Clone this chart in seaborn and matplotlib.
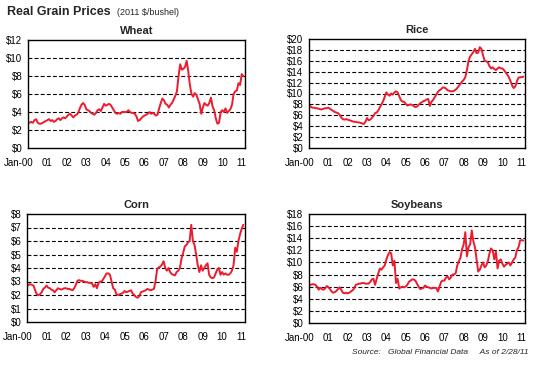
import numpy as np
import pandas as pd
import matplotlib
matplotlib.use("Agg")
import matplotlib.pyplot as plt
import matplotlib.transforms as mtransforms
import seaborn as sns

# Monthly real prices (2011 $/bushel), Jan-2000 .. Feb-2011
wheat = [2.9, 2.8, 2.9, 2.8, 3.1, 3.2, 2.8, 2.7, 2.7, 2.8, 2.9, 3.0,
         3.1, 3.2, 3.0, 3.1, 2.9, 3.0, 3.2, 3.3, 3.1, 3.3, 3.4, 3.3,
         3.5, 3.7, 3.8, 3.6, 3.4, 3.6, 3.7, 3.9, 4.4, 4.8, 5.0, 4.8,
         4.3, 4.2, 4.1, 3.9, 3.8, 3.7, 3.9, 4.2, 4.3, 4.1, 4.5, 4.9,
         4.7, 4.8, 4.9, 4.8, 4.5, 4.2, 3.9, 3.8, 3.9, 3.8, 4.0, 4.0,
         4.0, 4.0, 4.2, 4.0, 3.9, 3.9, 3.8, 3.5, 3.0, 3.1, 3.3, 3.5,
         3.6, 3.7, 3.8, 4.0, 3.8, 3.9, 3.8, 3.6, 3.7, 4.4, 5.0, 5.5,
         5.3, 4.9, 4.8, 4.5, 4.8, 5.0, 5.4, 5.8, 6.3, 8.0, 9.3, 8.7,
         8.8, 9.0, 9.7, 8.5, 7.0, 6.0, 5.7, 6.1, 5.9, 5.4, 4.9, 3.8,
         4.5, 5.0, 4.8, 4.7, 5.0, 5.6, 4.6, 4.2, 3.3, 2.7, 2.8, 4.0,
         4.2, 4.0, 4.4, 3.9, 4.1, 4.3, 4.8, 6.0, 6.3, 6.4, 7.2, 7.0,
         8.2, 8.0]

rice = [7.8, 7.6, 7.4, 7.4, 7.3, 7.3, 7.2, 7.1, 7.1, 7.2, 7.3, 7.3,
        7.4, 7.2, 7.0, 6.8, 6.6, 6.5, 6.4, 6.1, 5.6, 5.3, 5.2, 5.3,
        5.2, 5.1, 5.0, 4.9, 4.8, 4.8, 4.7, 4.7, 4.6, 4.5, 4.4, 4.8,
        5.5, 5.1, 5.2, 5.5, 5.9, 6.4, 6.5, 6.9, 7.5, 8.0, 8.6, 9.4,
        10.2, 9.8, 9.6, 10.0, 9.8, 10.2, 10.4, 10.2, 9.5, 8.8, 8.5, 8.5,
        8.1, 7.8, 7.9, 8.0, 7.9, 7.7, 7.5, 7.6, 7.9, 8.2, 8.4, 8.6,
        8.7, 8.9, 9.0, 7.7, 8.5, 8.8, 9.3, 9.8, 10.3, 10.6, 10.8, 11.1,
        11.1, 10.9, 10.6, 10.5, 10.4, 10.4, 10.5, 10.7, 11.0, 11.4, 11.8, 12.2,
        12.5, 13.0, 14.3, 16.0, 16.8, 17.2, 17.6, 18.2, 17.4, 17.5, 18.5, 18.2,
        17.0, 16.0, 15.9, 15.7, 15.0, 14.6, 14.8, 14.5, 14.3, 14.6, 14.8, 14.6,
        14.6, 14.3, 13.9, 13.5, 13.0, 12.3, 11.5, 11.0, 11.3, 12.2, 12.9, 13.0,
        13.0, 13.1]

corn = [2.65, 2.75, 2.80, 2.75, 2.70, 2.35, 2.05, 2.00, 2.05, 2.20, 2.45, 2.55,
        2.70, 2.55, 2.50, 2.40, 2.35, 2.20, 2.35, 2.50, 2.45, 2.40, 2.45, 2.50,
        2.50, 2.45, 2.45, 2.40, 2.35, 2.50, 2.75, 3.05, 3.10, 3.05, 3.05, 3.00,
        2.95, 2.95, 2.90, 2.90, 2.85, 2.60, 2.80, 2.50, 2.90, 3.00, 3.00, 3.20,
        3.40, 3.60, 3.60, 3.50, 3.00, 2.50, 2.40, 2.05, 2.00, 2.05, 2.10, 2.15,
        2.30, 2.20, 2.25, 2.30, 2.35, 2.10, 2.00, 1.85, 1.80, 1.90, 2.20, 2.25,
        2.30, 2.35, 2.45, 2.40, 2.35, 2.40, 2.45, 3.00, 3.90, 4.05, 4.10, 4.25,
        4.50, 4.00, 3.80, 4.00, 3.70, 3.55, 3.50, 3.45, 3.70, 3.80, 4.00, 4.70,
        5.10, 5.60, 5.70, 5.90, 6.00, 7.20, 6.00, 5.70, 5.00, 4.20, 3.70, 4.20,
        3.80, 4.00, 4.20, 4.35, 3.50, 3.30, 3.25, 3.30, 3.60, 3.90, 4.00, 3.50,
        3.70, 3.50, 3.60, 3.50, 3.50, 3.60, 3.80, 4.20, 5.50, 5.20, 6.00, 6.50,
        6.90, 7.20]

soybeans = [6.2, 6.3, 6.4, 6.4, 6.3, 6.0, 5.5, 5.8, 5.6, 5.5, 5.7, 6.1,
            5.9, 5.6, 5.2, 5.0, 5.1, 5.3, 5.6, 5.9, 5.5, 5.0, 4.9, 5.0,
            4.9, 5.0, 5.2, 5.4, 5.7, 6.3, 6.4, 6.5, 6.5, 6.6, 6.6, 6.5,
            6.5, 6.5, 6.8, 7.2, 7.3, 6.3, 7.3, 8.2, 9.0, 8.8, 9.2, 9.5,
            10.5, 11.2, 11.7, 11.5, 9.5, 10.3, 6.6, 7.3, 5.7, 5.9, 6.0, 5.9,
            6.0, 6.3, 6.8, 7.0, 7.2, 7.2, 7.0, 6.5, 6.0, 5.6, 5.7, 5.8,
            6.2, 6.0, 5.9, 5.8, 5.7, 5.8, 5.8, 5.8, 5.2, 6.0, 6.8, 7.0,
            7.0, 7.5, 7.7, 7.2, 7.5, 8.0, 8.0, 8.2, 9.5, 10.2, 10.8, 12.2,
            13.0, 15.0, 11.0, 12.5, 13.0, 15.3, 13.5, 12.5, 10.5, 8.5, 8.8, 9.5,
            10.0, 9.2, 9.5, 10.2, 11.5, 12.3, 12.0, 10.5, 11.8, 9.0, 10.3, 10.5,
            9.8, 9.3, 9.6, 9.8, 10.0, 9.5, 10.0, 10.5, 10.8, 12.0, 12.5, 13.6,
            13.7, 13.6]

year_labels = ["Jan-00", "01", "02", "03", "04", "05", "06", "07", "08", "09", "10", "11"]

# decimal-year time axis for the monthly series
t = 2000 + np.arange(len(wheat)) / 12.0
df = pd.DataFrame({"t": t, "Wheat": wheat, "Rice": rice,
                   "Corn": corn, "Soybeans": soybeans})

sns.set_style("white")
plt.rcParams["font.family"] = ["Liberation Sans", "DejaVu Sans"]

fig = plt.figure(figsize=(5.37, 3.71), dpi=100)
W, H = 537.0, 371.0

# (name, left, top, right, bottom in px, ymax, ystep)
panels = [("Wheat", 28, 40, 245, 148, 12, 2),
          ("Rice", 309, 39, 525, 148, 20, 2),
          ("Corn", 27, 214, 245, 322, 8, 1),
          ("Soybeans", 309, 214, 525, 323, 18, 2)]

red = "#ee1b2f"
for name, l, tp, r, b, ymax, ystep in panels:
    ax = fig.add_axes([l / W, 1 - b / H, (r - l) / W, (b - tp) / H])
    sns.lineplot(data=df, x="t", y=name, ax=ax, color=red, linewidth=1.4)
    ax.set_xlim(2000, 2011.17)
    ax.set_ylim(0, ymax)
    yt = np.arange(0, ymax + 0.01, ystep)
    ax.set_yticks(yt)
    ax.set_yticklabels(["$%d" % v for v in yt])
    ax.set_xticks(np.arange(2000, 2012))
    ax.set_xticklabels(year_labels)
    ax.set_xlabel("")
    ax.set_ylabel("")
    for v in yt[1:-1]:
        ax.axhline(v, color="black", linestyle=(0, (3.5, 2)), linewidth=0.8, zorder=0)
    for s in ax.spines.values():
        s.set_color("black")
        s.set_linewidth(1.0)
    ax.tick_params(axis="both", labelsize=7, length=3, width=0.8,
                   direction="out", pad=2, colors="black")
    ax.tick_params(axis="y", length=2)
    ax.tick_params(axis="x", pad=4)
    ax.set_title(name, fontsize=8, fontweight="bold", pad=4)
    # keep "00" of "Jan-00" centred on the first tick
    first = ax.get_xticklabels()[0]
    first.set_horizontalalignment("right")
    first.set_transform(first.get_transform() +
                        mtransforms.ScaledTranslation(4.0 / 72, 0, fig.dpi_scale_trans))

fig.text(7 / W, 1 - 12 / H, "Real Grain Prices", fontsize=9, fontweight="bold",
         va="center", ha="left")
fig.text(117 / W, 1 - 12.5 / H, "(2011 $/bushel)", fontsize=6.5,
         va="center", ha="left")
fig.text(529 / W, 1 - 353 / H,
         "Source:   Global Financial Data     As of 2/28/11",
         fontsize=6, style="italic", ha="right", va="center")

fig.savefig("out.png", dpi=100)
